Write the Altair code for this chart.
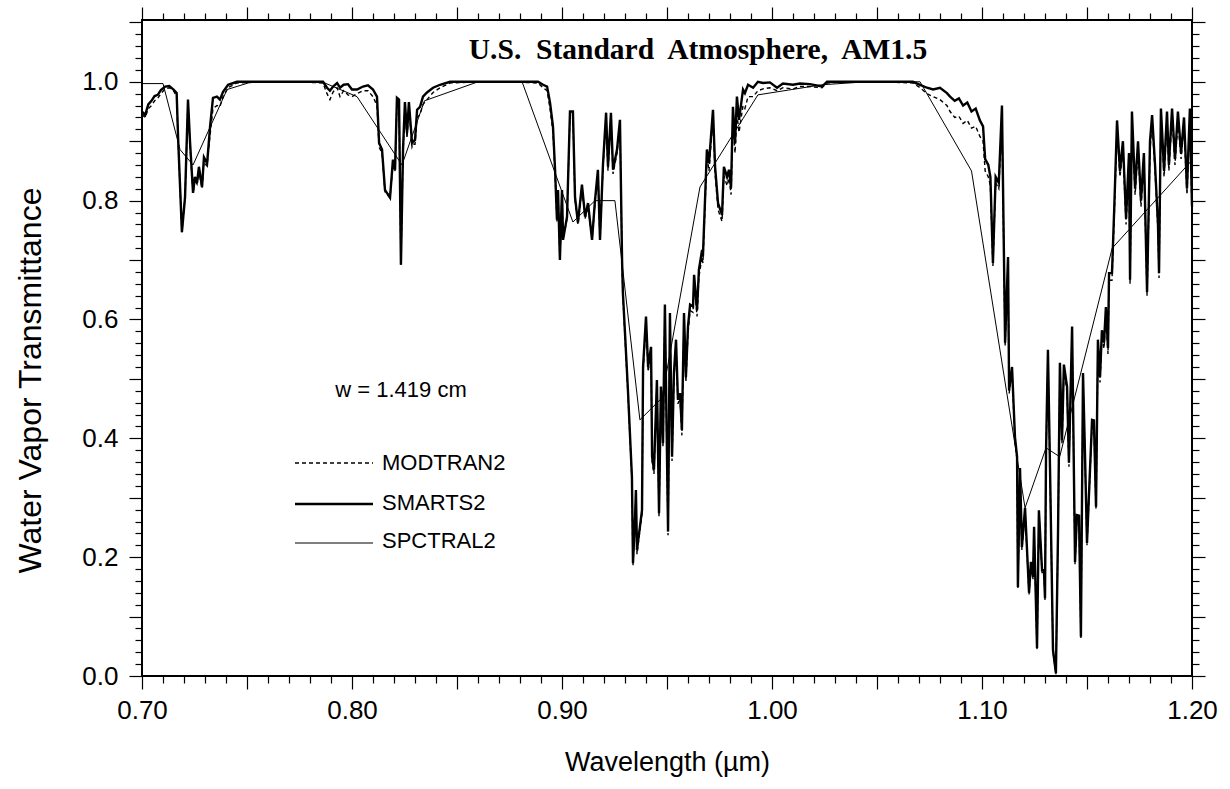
import altair as alt
import pandas as pd

# High-resolution transmittance spectra (wavelength in micrometres)
wl = [
    0.7000, 0.7015, 0.7030, 0.7045, 0.7060, 0.7075, 0.7090, 0.7110, 0.7130, 0.7150,
    0.7165, 0.7172, 0.7190, 0.7205, 0.7219, 0.7229, 0.7243, 0.7252, 0.7262, 0.7271,
    0.7286, 0.7295, 0.7310, 0.7314, 0.7324, 0.7338, 0.7357, 0.7371, 0.7386, 0.7410,
    0.7452, 0.7600, 0.7750,
    0.7862, 0.7881, 0.7895, 0.7910, 0.7929, 0.7943, 0.7960, 0.7981, 0.8000, 0.8024,
    0.8052, 0.8076, 0.8100, 0.8119, 0.8129, 0.8143, 0.8157, 0.8181, 0.8195, 0.8205,
    0.8214, 0.8224, 0.8233, 0.8243, 0.8252, 0.8262, 0.8271, 0.8286, 0.8293, 0.8300,
    0.8310, 0.8324, 0.8338, 0.8357, 0.8386, 0.8419, 0.8467, 0.8600, 0.8750,
    0.8886, 0.8910, 0.8929, 0.8943, 0.8957, 0.8967, 0.8976, 0.8981, 0.8990, 0.9000,
    0.9005, 0.9024, 0.9038, 0.9052, 0.9062, 0.9076, 0.9095, 0.9110, 0.9124, 0.9143,
    0.9157, 0.9171, 0.9181, 0.9195, 0.9210, 0.9219, 0.9233, 0.9243, 0.9262, 0.9276,
    0.9286, 0.9290, 0.9300, 0.9314, 0.9333, 0.9338, 0.9348, 0.9352, 0.9357, 0.9371,
    0.9381, 0.9386, 0.9400, 0.9410, 0.9424, 0.9429, 0.9438, 0.9452, 0.9462, 0.9471,
    0.9481, 0.9490, 0.9505, 0.9514, 0.9524, 0.9533, 0.9543, 0.9552, 0.9562, 0.9571,
    0.9581, 0.9590, 0.9600, 0.9610, 0.9624, 0.9629, 0.9643, 0.9652, 0.9667,
    0.9671, 0.9690, 0.9700, 0.9719, 0.9729, 0.9743, 0.9762, 0.9771, 0.9786, 0.9795,
    0.9805, 0.9814, 0.9824, 0.9833, 0.9843, 0.9862, 0.9871, 0.9886, 0.9910, 0.9933,
    0.9957, 0.9990, 1.0024, 1.0052, 1.0100, 1.0133, 1.0180, 1.0238, 1.0262, 1.0338,
    1.0514, 1.0671, 1.0705, 1.0738, 1.0767, 1.0800, 1.0833, 1.0848,
    1.0870, 1.0890, 1.0910, 1.0930, 1.0950, 1.0970, 1.0990, 1.1005, 1.1015, 1.1030,
    1.1040, 1.1052, 1.1065, 1.1080, 1.1095, 1.1110, 1.1124, 1.1129, 1.1143, 1.1157,
    1.1167, 1.1171, 1.1181, 1.1190, 1.1205, 1.1224, 1.1233, 1.1243, 1.1248, 1.1262,
    1.1271, 1.1286, 1.1295, 1.1300, 1.1305, 1.1314, 1.1324, 1.1338, 1.1352, 1.1362,
    1.1371, 1.1381, 1.1390, 1.1405, 1.1414, 1.1429, 1.1443, 1.1452, 1.1462, 1.1471,
    1.1481, 1.1490, 1.1500, 1.1524, 1.1533, 1.1543, 1.1552, 1.1562, 1.1571, 1.1581,
    1.1590, 1.1600, 1.1605, 1.1619,
    1.1630, 1.1643, 1.1657, 1.1671, 1.1686, 1.1700, 1.1705, 1.1714, 1.1729, 1.1743,
    1.1757, 1.1771, 1.1786, 1.1800, 1.1810, 1.1824, 1.1838, 1.1843, 1.1852, 1.1867,
    1.1881, 1.1890, 1.1905, 1.1919, 1.1933, 1.1948, 1.1962, 1.1976, 1.1990, 1.2000,
]

smarts2 = [
    0.950, 0.944, 0.962, 0.968, 0.976, 0.978, 0.986, 0.992, 0.993, 0.987,
    0.981, 0.905, 0.747, 0.806, 0.970, 0.897, 0.813, 0.840, 0.830, 0.857,
    0.823, 0.873, 0.863, 0.880, 0.924, 0.973, 0.975, 0.970, 0.983, 0.995,
    1.000, 1.000, 1.000,
    1.000, 0.990, 0.985, 0.992, 0.998, 0.990, 0.995, 0.996, 0.987, 0.987,
    0.992, 0.994, 0.987, 0.975, 0.897, 0.886, 0.818, 0.805, 0.869, 0.852,
    0.973, 0.970, 0.692, 0.886, 0.966, 0.914, 0.966, 0.897, 0.900, 0.902,
    0.953, 0.958, 0.975, 0.982, 0.990, 0.995, 1.000, 1.000, 1.000,
    1.000, 0.995, 0.992, 0.965, 0.925, 0.852, 0.768, 0.818, 0.700, 0.818,
    0.734, 0.773, 0.950, 0.950, 0.806, 0.763, 0.827, 0.773, 0.796, 0.734,
    0.800, 0.852, 0.734, 0.860, 0.948, 0.857, 0.948, 0.852, 0.886, 0.936,
    0.700, 0.645, 0.577, 0.481, 0.335, 0.190, 0.268, 0.313, 0.212, 0.251,
    0.279, 0.520, 0.605, 0.520, 0.554, 0.369, 0.347, 0.498, 0.274, 0.487,
    0.392, 0.625, 0.243, 0.611, 0.369, 0.510, 0.566, 0.465, 0.476, 0.414,
    0.611, 0.503, 0.588, 0.625, 0.622, 0.675, 0.616, 0.684, 0.717,
    0.706, 0.886, 0.863, 0.953, 0.857, 0.796, 0.776, 0.857, 0.840, 0.852,
    0.822, 0.958, 0.897, 0.975, 0.936, 0.987, 0.981, 0.995, 0.990, 1.000,
    0.998, 0.999, 0.990, 0.997, 0.995, 0.997, 0.996, 0.992, 1.000, 1.000,
    1.000, 1.000, 0.995, 0.990, 0.987, 0.990, 0.981, 0.975,
    0.968, 0.972, 0.960, 0.965, 0.950, 0.955, 0.935, 0.925, 0.870, 0.860,
    0.840, 0.695, 0.840, 0.830, 0.960, 0.561, 0.705, 0.481, 0.520, 0.402,
    0.369, 0.150, 0.350, 0.217, 0.283, 0.140, 0.192, 0.167, 0.251, 0.047,
    0.279, 0.178, 0.178, 0.131, 0.380, 0.549, 0.347, 0.044, 0.005, 0.241,
    0.527, 0.397, 0.524, 0.487, 0.359, 0.588, 0.192, 0.271, 0.270, 0.066,
    0.510, 0.380, 0.224, 0.431, 0.430, 0.285, 0.566, 0.503, 0.582, 0.561,
    0.621, 0.552, 0.678, 0.678,
    0.790, 0.935, 0.850, 0.900, 0.770, 0.880, 0.667, 0.950, 0.820, 0.900,
    0.800, 0.880, 0.646, 0.900, 0.944, 0.860, 0.760, 0.678, 0.955, 0.850,
    0.950, 0.860, 0.955, 0.870, 0.950, 0.880, 0.940, 0.820, 0.955, 0.790,
]

modtran2 = [
    0.945, 0.940, 0.955, 0.960, 0.968, 0.972, 0.980, 0.988, 0.990, 0.985,
    0.975, 0.900, 0.747, 0.806, 0.965, 0.890, 0.813, 0.835, 0.828, 0.850,
    0.820, 0.865, 0.858, 0.875, 0.910, 0.955, 0.960, 0.958, 0.975, 0.990,
    0.998, 1.000, 1.000,
    0.998, 0.980, 0.970, 0.983, 0.990, 0.975, 0.985, 0.978, 0.975, 0.980,
    0.985, 0.985, 0.975, 0.960, 0.890, 0.880, 0.815, 0.805, 0.860, 0.850,
    0.965, 0.960, 0.692, 0.880, 0.955, 0.905, 0.955, 0.890, 0.895, 0.895,
    0.940, 0.945, 0.962, 0.970, 0.982, 0.990, 0.998, 1.000, 1.000,
    0.998, 0.990, 0.985, 0.955, 0.915, 0.845, 0.765, 0.812, 0.700, 0.810,
    0.734, 0.770, 0.945, 0.945, 0.800, 0.760, 0.820, 0.770, 0.790, 0.734,
    0.795, 0.845, 0.734, 0.855, 0.940, 0.850, 0.940, 0.845, 0.880, 0.930,
    0.695, 0.640, 0.570, 0.475, 0.330, 0.185, 0.262, 0.305, 0.205, 0.245,
    0.272, 0.510, 0.595, 0.512, 0.545, 0.362, 0.340, 0.490, 0.268, 0.480,
    0.385, 0.615, 0.237, 0.600, 0.362, 0.500, 0.556, 0.458, 0.468, 0.405,
    0.600, 0.495, 0.578, 0.615, 0.612, 0.665, 0.605, 0.672, 0.705,
    0.695, 0.875, 0.850, 0.940, 0.845, 0.785, 0.765, 0.842, 0.825, 0.838,
    0.810, 0.930, 0.880, 0.945, 0.915, 0.960, 0.955, 0.975, 0.975, 0.985,
    0.988, 0.990, 0.985, 0.990, 0.988, 0.992, 0.992, 0.990, 0.998, 1.000,
    1.000, 0.998, 0.990, 0.980, 0.975, 0.970, 0.960, 0.950,
    0.940, 0.942, 0.930, 0.935, 0.922, 0.925, 0.908, 0.900, 0.850, 0.840,
    0.825, 0.690, 0.830, 0.820, 0.940, 0.555, 0.698, 0.475, 0.512, 0.395,
    0.362, 0.148, 0.342, 0.212, 0.277, 0.137, 0.188, 0.163, 0.246, 0.045,
    0.273, 0.174, 0.174, 0.128, 0.372, 0.540, 0.340, 0.042, 0.003, 0.236,
    0.518, 0.390, 0.515, 0.478, 0.352, 0.578, 0.188, 0.266, 0.265, 0.064,
    0.500, 0.372, 0.220, 0.422, 0.421, 0.280, 0.555, 0.494, 0.572, 0.551,
    0.610, 0.542, 0.666, 0.666,
    0.775, 0.920, 0.840, 0.885, 0.760, 0.865, 0.660, 0.935, 0.810, 0.885,
    0.790, 0.865, 0.640, 0.885, 0.930, 0.850, 0.750, 0.670, 0.940, 0.840,
    0.935, 0.850, 0.940, 0.860, 0.935, 0.870, 0.925, 0.810, 0.940, 0.780,
]

# Low-resolution SPCTRAL2 model
wl_spctral = [
    0.7000, 0.7100, 0.7181, 0.7243, 0.7405, 0.7524, 0.7857, 0.8024, 0.8238, 0.8345,
    0.8600, 0.8810, 0.9052, 0.9157, 0.9252, 0.9371, 0.9476, 0.9657, 0.9933, 1.0238,
    1.0450, 1.0705, 1.0950, 1.1205, 1.1305, 1.1370, 1.1620, 1.2000,
]
spctral2 = [
    0.997, 0.997, 0.886, 0.860, 0.987, 1.000, 1.000, 0.975, 0.860, 0.968,
    1.000, 1.000, 0.764, 0.800, 0.800, 0.431, 0.468, 0.823, 0.978, 0.995,
    1.000, 1.000, 0.850, 0.283, 0.384, 0.369, 0.720, 0.868,
]

hires = pd.DataFrame({"wl": wl, "SMARTS2": smarts2, "MODTRAN2": modtran2})
lores = pd.DataFrame({"wl": wl_spctral, "SPCTRAL2": spctral2})

# Axis tick positions: minor every 0.01 um / 0.02, major every 0.05 um / 0.1
x_ticks = [round(0.70 + 0.01 * i, 2) for i in range(51)]
y_ticks = [round(0.02 * i, 2) for i in range(56)]

FONT = "Liberation Sans"
x_scale = alt.Scale(domain=[0.70, 1.20], nice=False, zero=False)
y_scale = alt.Scale(domain=[0.0, 1.104], nice=False, zero=False)

x_major = "round(datum.value * 100) % 5 == 0"
y_major = "round(datum.value * 100) % 10 == 0"


def x_axis(orient, labelled):
    opts = dict(
        orient=orient, values=x_ticks, domain=False, grid=False,
        tickColor="black", tickWidth=1.2,
        tickSize={"condition": {"test": x_major, "value": 13}, "value": 7},
        labels=labelled,
    )
    if labelled:
        opts.update(
            labelExpr="round(datum.value * 100) % 10 == 0 ? format(datum.value, '.2f') : ''",
            labelFont=FONT, labelFontSize=26, labelColor="black", labelPadding=8,
            labelFlush=False, labelOverlap=False, labelBound=False,
            title="Wavelength (µm)", titleFont=FONT, titleFontSize=27,
            titleFontWeight="normal", titleColor="black", titlePadding=26,
        )
    else:
        opts["title"] = None
    return alt.Axis(**opts)


def y_axis(orient, labelled):
    opts = dict(
        orient=orient, values=y_ticks, domain=False, grid=False,
        tickColor="black", tickWidth=1.2,
        tickSize={"condition": {"test": y_major, "value": 13}, "value": 7},
        labels=labelled,
    )
    if labelled:
        opts.update(
            labelExpr="round(datum.value * 100) % 20 == 0 ? format(datum.value, '.1f') : ''",
            labelFont=FONT, labelFontSize=26, labelColor="black", labelPadding=11,
            labelFlush=False, labelOverlap=False, labelBound=False,
            title="Water Vapor Transmittance", titleFont=FONT, titleFontSize=32,
            titleFontWeight="normal", titleColor="black",
            titleX=-112, titleY=360, titleBaseline="middle", titleAngle=270,
        )
    else:
        opts["title"] = None
    return alt.Axis(**opts)


modtran_line = alt.Chart(hires).mark_line(
    color="black", strokeWidth=1.4, strokeDash=[4, 3]
).encode(
    x=alt.X("wl:Q", scale=x_scale, axis=None),
    y=alt.Y("MODTRAN2:Q", scale=y_scale, axis=None),
    order="wl:Q",
)

smarts_line = alt.Chart(hires).mark_line(color="black", strokeWidth=2.4).encode(
    x=alt.X("wl:Q", scale=x_scale, axis=x_axis("top", False)),
    y=alt.Y("SMARTS2:Q", scale=y_scale, axis=y_axis("right", False)),
    order="wl:Q",
)

spctral_line = alt.Chart(lores).mark_line(color="black", strokeWidth=1.0).encode(
    x=alt.X("wl:Q", scale=x_scale, axis=x_axis("bottom", True)),
    y=alt.Y("SPCTRAL2:Q", scale=y_scale, axis=y_axis("left", True)),
    order="wl:Q",
)

# Legend keys and annotations
key_dash = alt.Chart().mark_rule(color="black", strokeWidth=1.4, strokeDash=[4, 3]).encode(
    x=alt.value(153), x2=alt.value(231), y=alt.value(443)
)
key_thick = alt.Chart().mark_rule(color="black", strokeWidth=2.4).encode(
    x=alt.value(153), x2=alt.value(231), y=alt.value(484)
)
key_thin = alt.Chart().mark_rule(color="black", strokeWidth=1.0).encode(
    x=alt.value(153), x2=alt.value(231), y=alt.value(523)
)


def label(text, x, y, size=22, align="left", font=FONT, weight="normal"):
    return alt.Chart().mark_text(
        text=text, align=align, baseline="alphabetic", font=font,
        fontSize=size, fontWeight=weight, color="black",
    ).encode(x=alt.value(x), y=alt.value(y))


legend_text = (
    label("MODTRAN2", 240, 450)
    + label("SMARTS2", 240, 490)
    + label("SPCTRAL2", 240, 528)
)
w_note = label("w = 1.419 cm", 259, 377, align="center")
heading = label(
    "U.S.\u00a0 Standard\u00a0 Atmosphere,\u00a0 AM1.5", 556, 39,
    size=29.5, align="center", font="Liberation Serif", weight="bold",
)

chart = alt.layer(
    modtran_line, smarts_line, spctral_line,
    key_dash, key_thick, key_thin, legend_text, w_note, heading,
).resolve_axis(
    x="independent", y="independent"
).properties(
    width=1050, height=656,
    autosize=alt.AutoSizeParams(type="none"),
    padding={"left": 142, "top": 20, "right": 38, "bottom": 113},
    background="white",
).configure_view(stroke="black", strokeWidth=2)

chart.save("out.html", embed_options={"renderer": "svg", "actions": False})
